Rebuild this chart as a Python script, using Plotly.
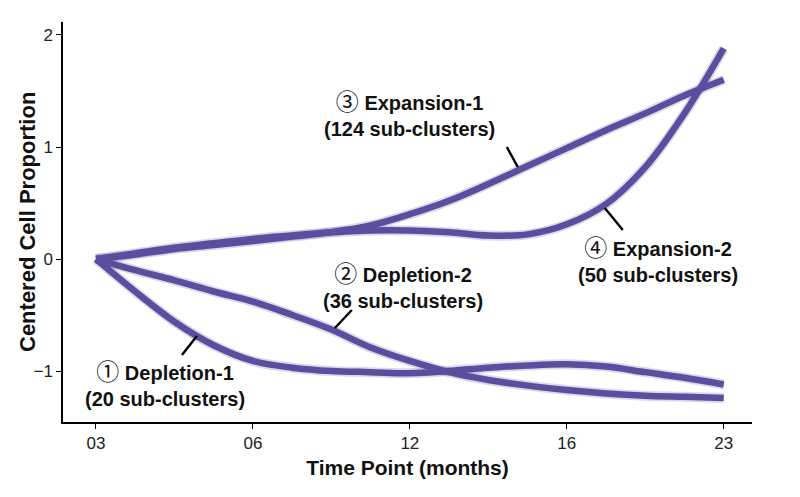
import plotly.graph_objects as go

# x positions are category indices (0..4) at quarter steps
x_idx = [0, 0.25, 0.5, 0.75, 1, 1.25, 1.5, 1.75, 2, 2.25, 2.5, 2.75, 3, 3.25, 3.5, 3.75, 4]
tick_vals = [0, 1, 2, 3, 4]
tick_text = ["03", "06", "12", "16", "23"]

depletion_1 = [0, -0.29, -0.56, -0.77, -0.91, -0.97, -1.00, -1.01, -1.02, -1.00, -0.97, -0.95,
               -0.94, -0.96, -1.01, -1.06, -1.12]
depletion_2 = [0, -0.10, -0.19, -0.29, -0.38, -0.50, -0.63, -0.79, -0.91, -1.01, -1.08, -1.13,
               -1.17, -1.20, -1.22, -1.23, -1.24]
expansion_1 = [0, 0.04, 0.09, 0.125, 0.16, 0.20, 0.24, 0.30, 0.40, 0.52, 0.67, 0.83,
               0.99, 1.15, 1.30, 1.46, 1.60]
expansion_2 = [0, 0.05, 0.10, 0.14, 0.18, 0.21, 0.24, 0.255, 0.255, 0.24, 0.21, 0.22,
               0.31, 0.49, 0.82, 1.30, 1.88]

series = [depletion_1, depletion_2, expansion_1, expansion_2]

color = "#5a4e9e"
fig = go.Figure()
for s in series:
    fig.add_trace(go.Scatter(x=x_idx, y=s, mode="lines",
                             line=dict(color="rgba(90,78,158,0.22)", width=10, shape="spline", smoothing=1.0),
                             hoverinfo="skip", showlegend=False))
    fig.add_trace(go.Scatter(x=x_idx, y=s, mode="lines",
                             line=dict(color=color, width=6.5, shape="spline", smoothing=1.0),
                             showlegend=False))

# pixel -> data helpers for label placement
def px_x(p):
    return (p - 96) / 157.0

def px_y(p):
    return (259 - p) / 112.0

CIRC = "<span style='font-family:Noto Sans CJK JP;font-weight:normal;font-size:23px'>%s</span>"
labels = [
    ("\u2460", "Depletion-1", "(20 sub-clusters)", 165, 381, (182, 355), (197, 336)),
    ("\u2461", "Depletion-2", "(36 sub-clusters)", 403, 283, (335, 328), (352, 310)),
    ("\u2462", "Expansion-1", "(124 sub-clusters)", 410, 111, (507, 147), (518, 167)),
    ("\u2463", "Expansion-2", "(50 sub-clusters)", 658, 257, (605, 208), (623, 230)),
]
for circ, name, sub, cx, cy, p0, p1 in labels:
    text = (CIRC % circ) + " <b>" + name + "</b><br><b>" + sub + "</b>"
    fig.add_annotation(x=px_x(cx), y=px_y(cy), text=text, showarrow=False,
                       font=dict(family="Liberation Sans, Arial", size=20, color="#111"),
                       xref="x", yref="y")
    fig.add_shape(type="line", x0=px_x(p0[0]), y0=px_y(p0[1]), x1=px_x(p1[0]), y1=px_y(p1[1]),
                  line=dict(color="black", width=2.4), xref="x", yref="y")

# y-axis title placed as rotated annotation
fig.add_annotation(x=(27 - 63) / 689.0, y=0.5, xref="paper", yref="paper",
                   text="<b>Centered Cell Proportion</b>", textangle=-90, showarrow=False,
                   font=dict(family="Liberation Sans, Arial", size=22, color="#111"),
                   xanchor="center", yanchor="middle")

fig.update_layout(
    width=800, height=497,
    margin=dict(l=63, r=48, t=22, b=75),
    paper_bgcolor="white", plot_bgcolor="white",
    font=dict(family="Liberation Sans, Arial", color="#222"),
)
fig.update_xaxes(
    range=[-0.21, 4.18], tickvals=tick_vals, ticktext=tick_text,
    showline=True, linecolor="black", linewidth=1.5, ticks="outside", ticklen=5, tickcolor="black",
    showgrid=False, zeroline=False, tickfont=dict(size=17, color="#222"),
    title=dict(text="<b>Time Point (months)</b>", font=dict(size=21, color="#111"), standoff=8),
)
fig.update_yaxes(
    range=[-1.455, 2.116], tickvals=[-1, 0, 1, 2],
    showline=True, linecolor="black", linewidth=1.5, ticks="outside", ticklen=5, tickcolor="black",
    showgrid=False, zeroline=False, tickfont=dict(size=17, color="#222"),
)

fig.write_html("out.html")
